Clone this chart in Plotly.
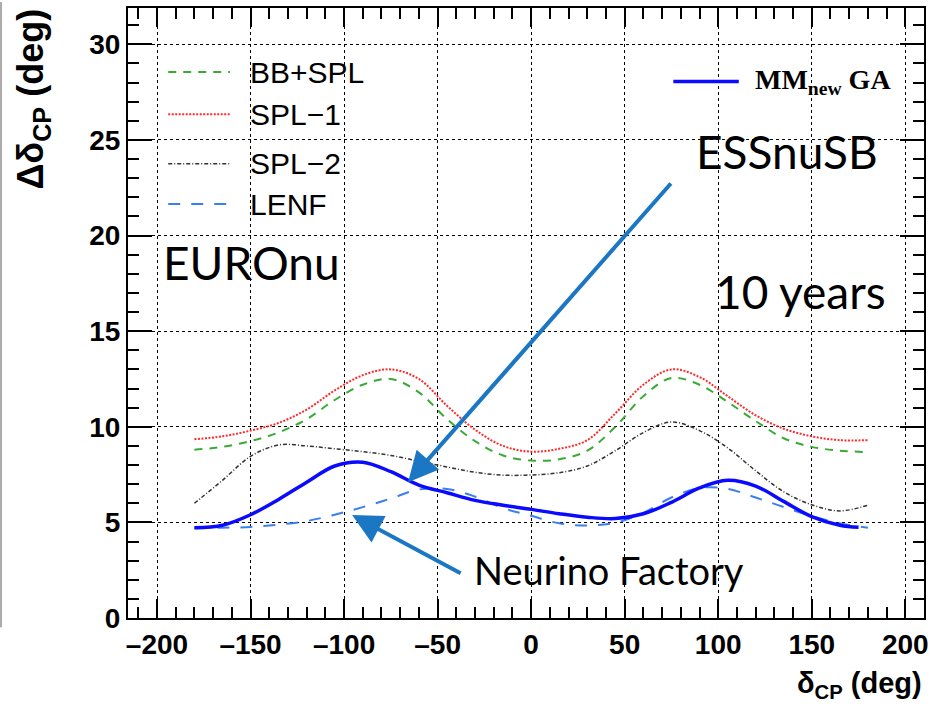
import plotly.graph_objects as go

# ---------------- data ----------------
delta_cp = [-180, -165, -150, -135, -120, -105, -90, -75, -60, -45, -30, -15, 0,
            15, 30, 45, 60, 75, 90, 105, 120, 135, 150, 165, 180]

bb_spl = [8.8, 8.95, 9.25, 9.7, 10.4, 11.4, 12.2, 12.5, 11.8, 10.4, 9.25, 8.5, 8.23,
          8.3, 8.75, 10.0, 11.6, 12.55, 12.2, 11.3, 10.3, 9.4, 8.95, 8.75, 8.68]

spl1 = [9.35, 9.5, 9.8, 10.2, 10.9, 11.9, 12.7, 13.0, 12.5, 11.1, 9.85, 9.0, 8.7,
        8.85, 9.3, 10.7, 12.2, 13.0, 12.6, 11.6, 10.6, 9.9, 9.5, 9.3, 9.3]

spl2 = [6.0, 7.2, 8.45, 9.05, 9.0, 8.85, 8.7, 8.5, 8.2, 7.9, 7.62, 7.47, 7.48,
        7.6, 7.95, 8.75, 9.7, 10.25, 9.8, 8.9, 7.7, 6.6, 5.92, 5.6, 5.9]

lenf = [4.69, 4.72, 4.76, 4.88, 5.07, 5.4, 5.8, 6.25, 6.72, 6.75, 6.35, 5.75, 5.35,
        4.95, 4.84, 4.98, 5.5, 6.3, 6.8, 6.75, 6.3, 5.8, 5.33, 4.95, 4.72]

mm_x = [-180, -165, -150, -135, -120, -105, -90, -75, -60, -45, -30, -15, 0,
        15, 30, 45, 60, 75, 90, 105, 120, 135, 150, 165, 175]
mm_new_ga = [4.72, 4.85, 5.4, 6.2, 7.1, 7.95, 8.15, 7.65, 6.95, 6.55, 6.15, 5.9, 5.68,
             5.45, 5.27, 5.2, 5.45, 6.05, 6.8, 7.2, 6.9, 6.1, 5.3, 4.85, 4.74]

x_ticks = [-200, -150, -100, -50, 0, 50, 100, 150, 200]
y_ticks = [0, 5, 10, 15, 20, 25, 30]

# ---------------- figure ----------------
fig = go.Figure()

series = [
    ("BB+SPL", delta_cp, bb_spl, "#3aaa35", "8px,7px", 2),
    ("SPL\u22121", delta_cp, spl1, "#ff2a2a", "2px,1.5px", 2),
    ("SPL\u22122", delta_cp, spl2, "#333333", "4px,2px,1px,2px", 1.5),
    ("LENF", delta_cp, lenf, "#3a7ff0", "12px,11px", 2),
]
for name, xs, ys, col, dash, w in series:
    fig.add_trace(go.Scatter(x=xs, y=ys, mode="lines", name=name,
                             line=dict(color=col, dash=dash, width=w, shape="spline", smoothing=1.0),
                             showlegend=False))
fig.add_trace(go.Scatter(x=mm_x, y=mm_new_ga, mode="lines", name="MM_new GA",
                         line=dict(color="#0a0aff", width=3.5, shape="spline", smoothing=1.0),
                         showlegend=False))

axis_common = dict(
    showline=True, linecolor="black", linewidth=2, mirror="ticks",
    ticks="inside", tickcolor="black", tickwidth=1.5,
    showgrid=True, gridcolor="black", griddash="dot", gridwidth=1,
    zeroline=False,
    tickfont=dict(family="Liberation Sans", size=28, color="black", weight="bold"),
)

fig.update_xaxes(range=[-215.5, 210], tickvals=x_ticks,
                 ticktext=[("\u2013" + str(-v)) if v < 0 else str(v) for v in x_ticks],
                 ticklen=19, minor=dict(dtick=10, ticklen=11, ticks="inside",
                                         tickcolor="black", tickwidth=1.5, showgrid=False),
                 **axis_common)
fig.update_yaxes(range=[0, 31.9], tickvals=y_ticks, ticklen=24,
                 minor=dict(dtick=1, ticklen=11, ticks="inside",
                            tickcolor="black", tickwidth=1.5, showgrid=False),
                 **axis_common)

# legend (manual)
leg_font = dict(family="Liberation Sans", size=30, color="black")
leg_rows = [("BB+SPL", 28.55, "#3aaa35", "8px,7px", 2),
            ("SPL\u22121", 26.35, "#ff2a2a", "2px,1.5px", 2),
            ("SPL\u22122", 23.75, "#333333", "4px,2px,1px,2px", 1.5),
            ("LENF", 21.65, "#3a7ff0", "12px,11px", 2)]
for txt, yy, col, dash, w in leg_rows:
    fig.add_shape(type="line", xref="x", yref="y", x0=-194, x1=-161, y0=yy, y1=yy,
                  line=dict(color=col, dash=dash, width=w))
    fig.add_annotation(x=-151.5, y=yy, xref="x", yref="y", text=txt, showarrow=False,
                       xanchor="left", yanchor="middle", font=leg_font)

fig.add_shape(type="line", xref="x", yref="y", x0=76, x1=111, y0=28.05, y1=28.05,
              line=dict(color="#0a0aff", width=3.5))
fig.add_annotation(x=118.5, y=28.05, xref="x", yref="y",
                   text="<b>MM<sub>new</sub> GA</b>", showarrow=False,
                   xanchor="left", yanchor="middle",
                   font=dict(family="Liberation Serif", size=28, color="black"))

# big labels
big_font = dict(family="Lato", size=46, color="black")
fig.add_annotation(x=-149.5, y=18.6, text="EUROnu", showarrow=False, font=big_font)
fig.add_annotation(x=143.8, y=17.1, text="10 years", showarrow=False, font=big_font)
fig.add_annotation(x=136.9, y=24.4, text="ESSnuSB", showarrow=False, font=big_font)
fig.add_annotation(x=41.4, y=2.5, text="Neurino Factory", showarrow=False,
                   font=dict(family="Lato", size=38, color="black"))

# arrows
arrow_col = "#1b77c4"
fig.add_annotation(x=-65.8, y=7.1, ax=75.4, ay=22.8, axref="x", ayref="y",
                   xref="x", yref="y", text="", showarrow=True,
                   arrowhead=2, arrowsize=1.5, arrowwidth=4, arrowcolor=arrow_col)
fig.add_annotation(x=-95.7, y=5.38, ax=-36.9, ay=2.3, axref="x", ayref="y",
                   xref="x", yref="y", text="", showarrow=True,
                   arrowhead=2, arrowsize=1.5, arrowwidth=4, arrowcolor=arrow_col)

# axis titles
fig.add_annotation(xref="paper", yref="paper", x=1.0, y=-0.11, xanchor="right", yanchor="middle",
                   text="<b>\u03b4<sub>CP</sub> (deg)</b>", showarrow=False,
                   font=dict(family="Liberation Sans", size=29, color="black"))
fig.add_annotation(xref="paper", yref="paper", x=-0.119, y=1.002, xanchor="center", yanchor="top",
                   text="<b>\u0394\u03b4<sub>CP</sub> (deg)</b>", showarrow=False, textangle=-90,
                   font=dict(family="Liberation Sans", size=36, color="black"))

# grey border on the left
fig.add_shape(type="line", xref="paper", yref="paper", x0=-0.1595, x1=-0.1595,
              y0=-0.015, y1=1.01, line=dict(color="#aaaaaa", width=2))

fig.update_layout(width=936, height=716, margin=dict(l=128, r=12, t=6, b=98),
                  paper_bgcolor="white", plot_bgcolor="white")

fig.write_html("out.html")
